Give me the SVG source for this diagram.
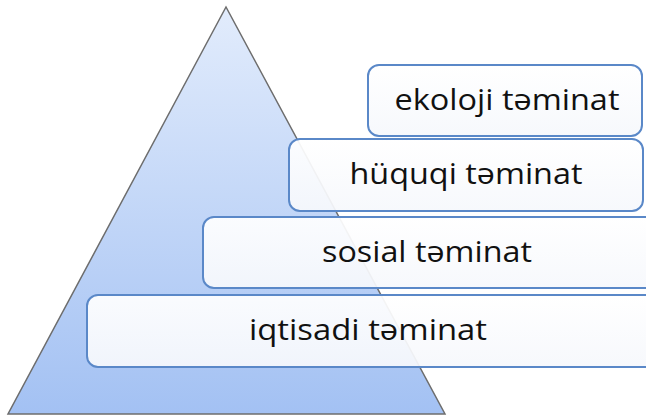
<svg xmlns="http://www.w3.org/2000/svg" width="646" height="418" viewBox="0 0 646 418">
<defs>
<linearGradient id="tri" x1="0" y1="0" x2="0" y2="1">
<stop offset="0" stop-color="#e2ecfc"/>
<stop offset="1" stop-color="#a3c1f3"/>
</linearGradient>
<linearGradient id="box" x1="0" y1="0" x2="0" y2="1">
<stop offset="0" stop-color="#ffffff" stop-opacity="0.93"/>
<stop offset="1" stop-color="#f6f8fc" stop-opacity="0.93"/>
</linearGradient>
</defs>
<style>
.b{fill:url(#box);stroke:#5a88c8;stroke-width:2}
.t{font-family:"Open Sans","Noto Sans",sans-serif;font-size:30px;fill:#111;text-anchor:middle}
</style>
<rect width="646" height="418" fill="#ffffff"/>
<g id="pyramid">
<polygon points="226,7 8,414 445,414" fill="url(#tri)" stroke="#6d6d6d" stroke-width="1.5"/>
</g>
<g id="connectors"/>
<g id="iqtisadi">
<rect class="b" x="87" y="295" width="572" height="72" rx="11"/>
<text class="t" x="368" y="340" textLength="238" lengthAdjust="spacingAndGlyphs">iqtisadi təminat</text>
</g>
<g id="sosial">
<rect class="b" x="203" y="217" width="456" height="71" rx="11"/>
<text class="t" x="427" y="262" textLength="210" lengthAdjust="spacingAndGlyphs">sosial təminat</text>
</g>
<g id="huquqi">
<rect class="b" x="289" y="139" width="354" height="72" rx="11"/>
<text class="t" x="466" y="184" textLength="233" lengthAdjust="spacingAndGlyphs">hüquqi təminat</text>
</g>
<g id="ekoloji">
<rect class="b" x="368" y="65" width="274" height="71" rx="11"/>
<text class="t" x="507" y="110" textLength="225" lengthAdjust="spacingAndGlyphs">ekoloji təminat</text>
</g>
</svg>
